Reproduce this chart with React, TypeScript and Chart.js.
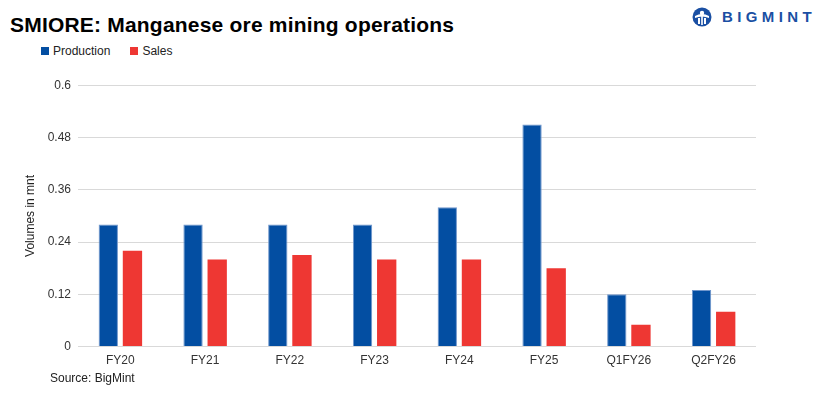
import React, { useEffect, useRef } from "react";
import { Chart, registerables } from "chart.js";

Chart.register(...registerables);

const categories = ["FY20", "FY21", "FY22", "FY23", "FY24", "FY25", "Q1FY26", "Q2FY26"];
const production = [0.28, 0.28, 0.28, 0.28, 0.32, 0.51, 0.12, 0.13];
const sales = [0.22, 0.2, 0.21, 0.2, 0.2, 0.18, 0.05, 0.08];
const yTicks = [0, 0.12, 0.24, 0.36, 0.48, 0.6];

const BLUE = "#034EA2";
const RED = "#EE3733";
const FONT = "'Liberation Sans', Arial, sans-serif";

export default function App() {
  const ref = useRef<HTMLCanvasElement | null>(null);

  useEffect(() => {
    if (!ref.current) return;
    const chart = new Chart(ref.current, {
      type: "bar",
      data: {
        labels: categories,
        datasets: [
          {
            label: "Production",
            data: production,
            backgroundColor: BLUE,
            borderColor: "#7096cc",
            borderWidth: { top: 1, left: 1, right: 1, bottom: 0 },
            categoryPercentage: 0.57,
            barPercentage: 0.8,
          },
          {
            label: "Sales",
            data: sales,
            backgroundColor: RED,
            borderWidth: 0,
            categoryPercentage: 0.57,
            barPercentage: 0.8,
          },
        ],
      },
      options: {
        animation: false,
        responsive: false,
        maintainAspectRatio: false,
        layout: { padding: { left: 23, right: 74, top: 11, bottom: 16 } },
        plugins: {
          legend: { display: false },
          title: { display: false },
          tooltip: { enabled: false },
        },
        scales: {
          x: {
            grid: { display: false, drawTicks: false },
            border: { display: false },
            ticks: {
              color: "#333",
              font: { family: FONT, size: 12 },
              padding: 7,
              maxRotation: 0,
            },
          },
          y: {
            min: 0,
            max: 0.6,
            afterBuildTicks: (scale: any) => {
              scale.ticks = yTicks.map((v) => ({ value: v }));
            },
            afterFit: (scale: any) => {
              scale.width = 55;
            },
            grid: { color: "#d9d9d9", drawTicks: false, lineWidth: 1 },
            border: { display: false },
            ticks: {
              color: "#333",
              font: { family: FONT, size: 12 },
              padding: 7,
              callback: (v: any) => String(Number(Number(v).toFixed(2))),
            },
            title: {
              display: true,
              text: "Volumes in mnt",
              color: "#222",
              font: { family: FONT, size: 12 },
              padding: { top: 0, bottom: 0 },
            },
          },
        },
      },
    });
    return () => chart.destroy();
  }, []);

  return (
    <div
      style={{
        position: "fixed",
        left: 0,
        top: 0,
        width: 830,
        height: 396,
        background: "#fff",
        fontFamily: FONT,
        overflow: "hidden",
      }}
    >
      <div
        style={{
          position: "absolute",
          left: 10,
          top: 13,
          fontSize: 21,
          fontWeight: 700,
          letterSpacing: 0.2,
          color: "#000",
          whiteSpace: "nowrap",
          lineHeight: "24px",
        }}
      >
        SMIORE: Manganese ore mining operations
      </div>
      <div
        style={{
          position: "absolute",
          left: 41,
          top: 43,
          fontSize: 12,
          color: "#222",
          display: "flex",
          alignItems: "center",
          lineHeight: "16px",
        }}
      >
        <span style={{ width: 8, height: 8, background: BLUE, display: "inline-block", marginRight: 4 }} />
        <span>Production</span>
        <span style={{ width: 8, height: 8, background: RED, display: "inline-block", marginLeft: 20, marginRight: 4 }} />
        <span>Sales</span>
      </div>
      <div
        style={{
          position: "absolute",
          left: 692,
          top: 7,
          display: "flex",
          alignItems: "center",
          color: "#1a4fa3",
        }}
      >
        <svg width="20" height="20" viewBox="0 0 20 20" style={{ marginRight: 10 }}>
          <circle cx="10" cy="10" r="9.5" fill="#1a4fa3" />
          <circle cx="10" cy="6" r="2.2" fill="#fff" />
          <path d="M3 9 Q10 5 17 9 L17 11 Q10 8 3 11 Z" fill="#fff" />
          <rect x="6" y="11" width="2" height="6" fill="#fff" />
          <rect x="12" y="11" width="2" height="6" fill="#fff" />
          <rect x="9.2" y="9" width="1.6" height="9" fill="#fff" />
        </svg>
        <span style={{ fontSize: 15, fontWeight: 700, letterSpacing: 4.4, lineHeight: "20px" }}>BIGMINT</span>
      </div>
      <canvas
        ref={ref}
        width={830}
        height={320}
        style={{ position: "absolute", left: 0, top: 71, width: 830, height: 320 }}
      />
      <div
        style={{
          position: "absolute",
          left: 50,
          top: 371,
          fontSize: 12,
          color: "#222",
          lineHeight: "14px",
        }}
      >
        Source: BigMint
      </div>
    </div>
  );
}
